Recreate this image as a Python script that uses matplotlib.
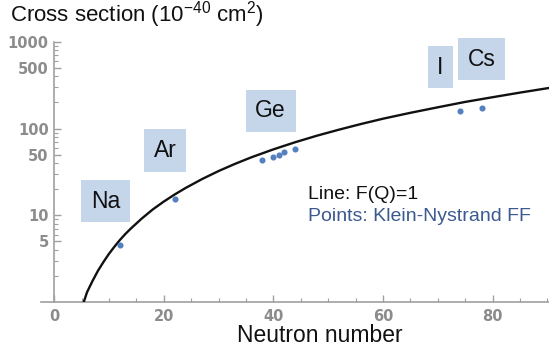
import matplotlib.pyplot as plt
from matplotlib.ticker import LogLocator, MultipleLocator, NullFormatter

plt.rcParams["font.family"] = "Liberation Sans"
plt.rcParams["mathtext.fontset"] = "custom"
plt.rcParams["mathtext.rm"] = "Liberation Sans"

# curve F(Q)=1
line_n = [5.4, 6, 7, 8, 9, 10, 11, 12, 13, 14, 16, 18, 20, 22, 24, 27,
          30, 33, 36, 40, 44, 48, 52, 56, 60, 65, 70, 75, 80, 85, 90, 91]
line_sigma = [1.0, 1.3, 1.75, 2.3, 2.9, 3.6, 4.35, 5.2, 6.1, 7.05, 9.2,
              11.7, 14.4, 17.4, 20.7, 26.2, 32.4, 39.2, 46.7, 57.6, 69.7,
              83, 97.3, 113, 130, 152, 176, 203, 230, 260, 292, 298]

# Klein-Nystrand points
point_n = [12, 22, 38, 40, 41, 42, 44, 74, 78]
point_sigma = [4.6, 15.3, 43.6, 46.9, 49.9, 53.6, 58.5, 159, 174]

# element labels (text, x, y)
elements = ["Na", "Ar", "Ge", "I", "Cs"]
element_x = [9.4, 20.3, 39.5, 70.5, 78.0]
element_y = [14.5, 56, 160, 512, 634]

y_ticks = [5, 10, 50, 100, 500, 1000]

tick_color = "#8c8c8c"
axis_color = "#a0a0a0"
box_color = "#c6d6ea"
point_color = "#5580c0"

fig = plt.figure(figsize=(5.49, 3.46), dpi=100)
ax = fig.add_axes([0.0747, 0.127, 0.9253, 0.752])

ax.plot(line_n, line_sigma, color="#111111", linewidth=1.7, zorder=3)
ax.plot(point_n, point_sigma, "o", color=point_color, markersize=4.4,
        markeredgewidth=0, zorder=4)

ax.set_yscale("log")
ax.set_xlim(-2.4, 90.3)
ax.set_ylim(1, 1000)

for side in ["top", "right"]:
    ax.spines[side].set_visible(False)
ax.spines["left"].set_position(("data", 0))
for side in ["left", "bottom"]:
    ax.spines[side].set_color(axis_color)
    ax.spines[side].set_linewidth(1.2)

ax.set_xticks([0, 20, 40, 60, 80])
ax.xaxis.set_minor_locator(MultipleLocator(5))
ax.set_yticks(y_ticks)
ax.set_yticklabels([str(v) for v in y_ticks])
ax.yaxis.set_minor_locator(LogLocator(base=10, subs=range(2, 10)))
ax.yaxis.set_minor_formatter(NullFormatter())

ax.tick_params(which="both", direction="in", color=axis_color,
               labelcolor=tick_color)
ax.tick_params(which="major", length=5, width=1.0, labelsize=10.5)
ax.tick_params(which="minor", length=3, width=0.8)
ax.tick_params(axis="x", which="major", pad=5)
ax.tick_params(axis="y", which="major", pad=4)
for lab in ax.get_xticklabels() + ax.get_yticklabels():
    lab.set_family("DejaVu Sans")
    lab.set_fontweight("bold")

for name, x, y in zip(elements, element_x, element_y):
    ax.text(x, y, name, ha="center", va="center", fontsize=16.5,
            color="#111111", zorder=5,
            bbox=dict(boxstyle="square,pad=0.42", facecolor=box_color,
                      edgecolor="none"))

ax.text(46.4, 17.5, "Line: F(Q)=1", ha="left", va="center",
        fontsize=14, color="#111111")
ax.text(46.4, 9.7, "Points: Klein-Nystrand FF", ha="left", va="center",
        fontsize=14, color="#3c5a8f")

fig.text(10 / 549, 1 - 15 / 346,
         r"Cross section (10$\mathregular{^{-40}}$ cm$\mathregular{^{2}}$)",
         ha="left", va="center", fontsize=16, color="#111111")
fig.text(320 / 549, 1 - 336 / 346, "Neutron number",
         ha="center", va="center", fontsize=16.5, color="#111111")

fig.savefig("out.png", dpi=100)
